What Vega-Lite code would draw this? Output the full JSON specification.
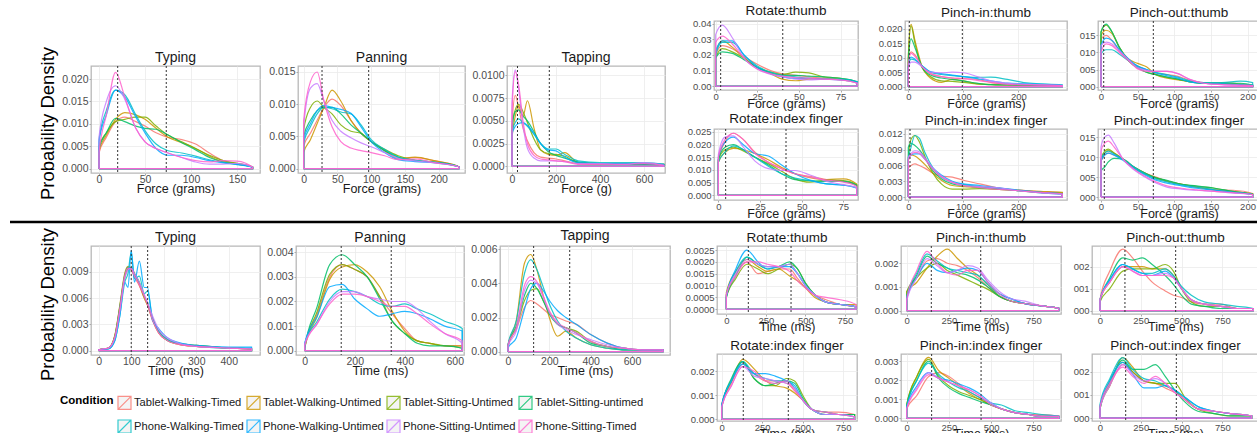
{
"$schema": "https://vega.github.io/schema/vega-lite/v6.json",
"padding": {"left": 8, "top": 3, "right": 0, "bottom": 0},
"background": "white",
"config": {
 "font": "Liberation Sans",
 "view": {"stroke": "#b8b8b8", "strokeWidth": 1.3},
 "range": {"category": ["#F8766D", "#CD9600", "#7CAE00", "#00BE67", "#00BFC4", "#00A9FF", "#C77CFF", "#FF61CC"]},
 "line": {"strokeWidth": 1.2, "opacity": 0.85, "interpolate": "monotone"},
 "rule": {"color": "#333333", "strokeDash": [2, 2], "strokeWidth": 1},
 "axis": {"labelFont": "Liberation Sans", "labelFontSize": 10.5, "labelColor": "#4d4d4d", "tickColor": "#aaaaaa", "tickSize": 2, "domain": false, "gridColor": "#ebebeb", "gridWidth": 0.8, "titleFont": "Liberation Sans", "titleFontSize": 12.5, "titleFontWeight": "normal", "titleColor": "#1a1a1a", "labelOverlap": false, "labelFlush": false, "labelBound": false},
 "axisX": {"titlePadding": -2, "labelPadding": -1},
 "axisY": {"titlePadding": 4, "labelPadding": 1},
 "title": {"font": "Liberation Sans", "fontSize": 14, "fontWeight": "normal", "color": "#1a1a1a", "baseline": "alphabetic", "offset": 1, "frame": "group"}
},
"datasets": {
 "refs": [
  {"p":"T1","x":20.3},{"p":"T1","x":73.1},
  {"p":"T2","x":27.2},{"p":"T2","x":96.3},
  {"p":"T3","x":25},{"p":"T3","x":169.6},
  {"p":"R1","x":3},{"p":"R1","x":40.3},
  {"p":"R2","x":1.8},{"p":"R2","x":98.2},
  {"p":"R3","x":3.7},{"p":"R3","x":71.4},
  {"p":"R4","x":4.4},{"p":"R4","x":40.6},
  {"p":"R5","x":3.1},{"p":"R5","x":98.2},
  {"p":"R6","x":4.5},{"p":"R6","x":71.4},
  {"p":"B1","x":100},{"p":"B1","x":150.5},
  {"p":"B2","x":146},{"p":"B2","x":346},
  {"p":"B3","x":124},{"p":"B3","x":298.5},
  {"p":"S1","x":139},{"p":"S1","x":409},
  {"p":"S2","x":145.5},{"p":"S2","x":438},
  {"p":"S3","x":153},{"p":"S3","x":464},
  {"p":"S4","x":133},{"p":"S4","x":411},
  {"p":"S5","x":147.5},{"p":"S5","x":440},
  {"p":"S6","x":157.6},{"p":"S6","x":468}
 ],
 "curves": [
  {"p":"T1","x":0,"a":0,"b":0,"c":0,"d":0,"e":0,"f":0,"g":0,"h":0},
  {"p":"T1","x":0,"a":0.0035,"b":0.004,"c":0.005,"d":0.0045,"e":0.0065,"f":0.006,"g":0.007,"h":0.0035},
  {"p":"T1","x":8,"a":0.007,"b":0.0075,"c":0.008,"d":0.008,"e":0.013,"f":0.012,"g":0.015,"h":0.012},
  {"p":"T1","x":18,"a":0.0105,"b":0.011,"c":0.0105,"d":0.0112,"e":0.0175,"f":0.0175,"g":0.0185,"h":0.0215},
  {"p":"T1","x":28,"a":0.0115,"b":0.0125,"c":0.011,"d":0.0105,"e":0.0165,"f":0.016,"g":0.0155,"h":0.016},
  {"p":"T1","x":40,"a":0.0105,"b":0.012,"c":0.0115,"d":0.0095,"e":0.012,"f":0.0115,"g":0.009,"h":0.009},
  {"p":"T1","x":50,"a":0.0095,"b":0.011,"c":0.0115,"d":0.009,"e":0.0085,"f":0.008,"g":0.006,"h":0.006},
  {"p":"T1","x":62,"a":0.008,"b":0.009,"c":0.0095,"d":0.0088,"e":0.0055,"f":0.0045,"g":0.0045,"h":0.0045},
  {"p":"T1","x":75,"a":0.007,"b":0.007,"c":0.0075,"d":0.0075,"e":0.004,"f":0.003,"g":0.0035,"h":0.0035},
  {"p":"T1","x":90,"a":0.0065,"b":0.0058,"c":0.006,"d":0.0058,"e":0.0035,"f":0.003,"g":0.0025,"h":0.0025},
  {"p":"T1","x":105,"a":0.0055,"b":0.0045,"c":0.0045,"d":0.0042,"e":0.0028,"f":0.0025,"g":0.0015,"h":0.0018},
  {"p":"T1","x":120,"a":0.0035,"b":0.0028,"c":0.003,"d":0.0025,"e":0.002,"f":0.0018,"g":0.001,"h":0.0015},
  {"p":"T1","x":135,"a":0.0018,"b":0.0015,"c":0.0018,"d":0.0015,"e":0.0014,"f":0.0013,"g":0.001,"h":0.0018},
  {"p":"T1","x":150,"a":0.001,"b":0.0012,"c":0.0012,"d":0.001,"e":0.001,"f":0.0009,"g":0.0012,"h":0.0017},
  {"p":"T1","x":167,"a":0.0004,"b":0.0004,"c":0.0003,"d":0.0004,"e":0.0003,"f":0.0003,"g":0.0004,"h":0.0003},
  {"p":"T1","x":167,"a":0,"b":0,"c":0,"d":0,"e":0,"f":0,"g":0,"h":0},
  {"p":"T1","x":0,"a":0,"b":0,"c":0,"d":0,"e":0,"f":0,"g":0,"h":0},

  {"p":"T2","x":0,"a":0,"b":0,"c":0,"d":0,"e":0,"f":0,"g":0,"h":0},
  {"p":"T2","x":0,"a":0.0035,"b":0.0025,"c":0.006,"d":0.005,"e":0.004,"f":0.0045,"g":0.0065,"h":0.0075},
  {"p":"T2","x":10,"a":0.0055,"b":0.0045,"c":0.0095,"d":0.0075,"e":0.0065,"f":0.007,"g":0.0125,"h":0.0135},
  {"p":"T2","x":20,"a":0.0075,"b":0.007,"c":0.0105,"d":0.009,"e":0.0085,"f":0.009,"g":0.0132,"h":0.015},
  {"p":"T2","x":30,"a":0.0095,"b":0.0095,"c":0.0095,"d":0.0095,"e":0.0095,"f":0.0098,"g":0.0105,"h":0.0105},
  {"p":"T2","x":42,"a":0.0108,"b":0.0122,"c":0.0085,"d":0.0095,"e":0.0093,"f":0.0095,"g":0.0075,"h":0.0065},
  {"p":"T2","x":55,"a":0.0098,"b":0.0105,"c":0.0068,"d":0.0085,"e":0.0088,"f":0.0092,"g":0.0058,"h":0.0042},
  {"p":"T2","x":70,"a":0.0075,"b":0.0075,"c":0.0058,"d":0.0068,"e":0.0085,"f":0.0086,"g":0.0048,"h":0.0032},
  {"p":"T2","x":85,"a":0.0055,"b":0.0055,"c":0.0055,"d":0.0055,"e":0.0068,"f":0.0065,"g":0.004,"h":0.0028},
  {"p":"T2","x":100,"a":0.0042,"b":0.0042,"c":0.0042,"d":0.0042,"e":0.0045,"f":0.0042,"g":0.0034,"h":0.0025},
  {"p":"T2","x":120,"a":0.0028,"b":0.0028,"c":0.003,"d":0.0028,"e":0.003,"f":0.0025,"g":0.0025,"h":0.002},
  {"p":"T2","x":140,"a":0.0016,"b":0.0016,"c":0.002,"d":0.0018,"e":0.0018,"f":0.0014,"g":0.0016,"h":0.0014},
  {"p":"T2","x":165,"a":0.0017,"b":0.0018,"c":0.0013,"d":0.0013,"e":0.0013,"f":0.0011,"g":0.0012,"h":0.0015},
  {"p":"T2","x":195,"a":0.0012,"b":0.0012,"c":0.001,"d":0.001,"e":0.001,"f":0.0009,"g":0.0009,"h":0.0009},
  {"p":"T2","x":230,"a":0.0003,"b":0.0003,"c":0.0003,"d":0.0003,"e":0.0003,"f":0.0003,"g":0.0003,"h":0.0003},
  {"p":"T2","x":230,"a":0,"b":0,"c":0,"d":0,"e":0,"f":0,"g":0,"h":0},
  {"p":"T2","x":0,"a":0,"b":0,"c":0,"d":0,"e":0,"f":0,"g":0,"h":0},

  {"p":"T3","x":0,"a":0,"b":0,"c":0,"d":0,"e":0,"f":0,"g":0,"h":0},
  {"p":"T3","x":0,"a":0.0045,"b":0.003,"c":0.0045,"d":0.004,"e":0.0038,"f":0.0035,"g":0.007,"h":0.006},
  {"p":"T3","x":15,"a":0.0078,"b":0.0055,"c":0.0062,"d":0.006,"e":0.0048,"f":0.0044,"g":0.0106,"h":0.0104},
  {"p":"T3","x":30,"a":0.0065,"b":0.0066,"c":0.0068,"d":0.0062,"e":0.0052,"f":0.0047,"g":0.0085,"h":0.009},
  {"p":"T3","x":50,"a":0.0042,"b":0.0055,"c":0.006,"d":0.0055,"e":0.0048,"f":0.0048,"g":0.0045,"h":0.005},
  {"p":"T3","x":70,"a":0.0028,"b":0.0072,"c":0.0048,"d":0.005,"e":0.0044,"f":0.0045,"g":0.002,"h":0.0025},
  {"p":"T3","x":100,"a":0.0015,"b":0.0042,"c":0.003,"d":0.0038,"e":0.0035,"f":0.0036,"g":0.0009,"h":0.0012},
  {"p":"T3","x":130,"a":0.001,"b":0.0018,"c":0.0018,"d":0.0025,"e":0.0025,"f":0.0025,"g":0.0006,"h":0.0008},
  {"p":"T3","x":165,"a":0.0009,"b":0.0013,"c":0.0014,"d":0.0016,"e":0.0019,"f":0.0018,"g":0.0006,"h":0.0007},
  {"p":"T3","x":200,"a":0.0008,"b":0.0012,"c":0.0013,"d":0.0012,"e":0.0019,"f":0.0017,"g":0.0006,"h":0.0006},
  {"p":"T3","x":240,"a":0.0006,"b":0.0015,"c":0.0011,"d":0.0009,"e":0.0013,"f":0.001,"g":0.0005,"h":0.0005},
  {"p":"T3","x":300,"a":0.0003,"b":0.0004,"c":0.0004,"d":0.0005,"e":0.0006,"f":0.0004,"g":0.0003,"h":0.0002},
  {"p":"T3","x":400,"a":0.0002,"b":0.0002,"c":0.0003,"d":0.0003,"e":0.0004,"f":0.0003,"g":0.0003,"h":0.0002},
  {"p":"T3","x":500,"a":0.0002,"b":0.0002,"c":0.0002,"d":0.0002,"e":0.0004,"f":0.0003,"g":0.0002,"h":0.0002},
  {"p":"T3","x":600,"a":0.0002,"b":0.0002,"c":0.0002,"d":0.0002,"e":0.0004,"f":0.0003,"g":0.0004,"h":0.0003},
  {"p":"T3","x":690,"a":0.0001,"b":0.0002,"c":0.0002,"d":0.0002,"e":0.0002,"f":0.0002,"g":0.0001,"h":0.0001},
  {"p":"T3","x":690,"a":0,"b":0,"c":0,"d":0,"e":0,"f":0,"g":0,"h":0},
  {"p":"T3","x":0,"a":0,"b":0,"c":0,"d":0,"e":0,"f":0,"g":0,"h":0},

  {"p":"R1","x":0,"a":0,"b":0,"c":0,"d":0,"e":0,"f":0,"g":0,"h":0},
  {"p":"R1","x":0,"a":0.02,"b":0.022,"c":0.018,"d":0.018,"e":0.02,"f":0.022,"g":0.033,"h":0.028},
  {"p":"R1","x":4,"a":0.026,"b":0.029,"c":0.024,"d":0.022,"e":0.028,"f":0.029,"g":0.039,"h":0.032},
  {"p":"R1","x":10,"a":0.024,"b":0.025,"c":0.022,"d":0.021,"e":0.028,"f":0.029,"g":0.031,"h":0.027},
  {"p":"R1","x":17,"a":0.019,"b":0.018,"c":0.018,"d":0.017,"e":0.02,"f":0.02,"g":0.018,"h":0.018},
  {"p":"R1","x":25,"a":0.014,"b":0.012,"c":0.012,"d":0.012,"e":0.013,"f":0.012,"g":0.011,"h":0.011},
  {"p":"R1","x":33,"a":0.01,"b":0.008,"c":0.009,"d":0.0085,"e":0.009,"f":0.008,"g":0.0075,"h":0.008},
  {"p":"R1","x":40,"a":0.008,"b":0.0045,"c":0.0075,"d":0.007,"e":0.007,"f":0.006,"g":0.006,"h":0.0065},
  {"p":"R1","x":48,"a":0.007,"b":0.0035,"c":0.009,"d":0.007,"e":0.006,"f":0.005,"g":0.0045,"h":0.0055},
  {"p":"R1","x":56,"a":0.006,"b":0.0045,"c":0.0085,"d":0.0065,"e":0.005,"f":0.005,"g":0.004,"h":0.005},
  {"p":"R1","x":65,"a":0.005,"b":0.005,"c":0.006,"d":0.006,"e":0.0045,"f":0.0045,"g":0.0045,"h":0.0045},
  {"p":"R1","x":75,"a":0.004,"b":0.0045,"c":0.005,"d":0.005,"e":0.0045,"f":0.004,"g":0.004,"h":0.004},
  {"p":"R1","x":85,"a":0.002,"b":0.0025,"c":0.0025,"d":0.0028,"e":0.003,"f":0.0025,"g":0.002,"h":0.002},
  {"p":"R1","x":85,"a":0,"b":0,"c":0,"d":0,"e":0,"f":0,"g":0,"h":0},
  {"p":"R1","x":0,"a":0,"b":0,"c":0,"d":0,"e":0,"f":0,"g":0,"h":0},

  {"p":"R2","x":0,"a":0,"b":0,"c":0,"d":0,"e":0,"f":0,"g":0,"h":0},
  {"p":"R2","x":0,"a":0.008,"b":0.01,"c":0.01,"d":0.009,"e":0.007,"f":0.007,"g":0.006,"h":0.008},
  {"p":"R2","x":5,"a":0.012,"b":0.0215,"c":0.021,"d":0.0165,"e":0.0095,"f":0.0102,"g":0.0085,"h":0.0115},
  {"p":"R2","x":12,"a":0.011,"b":0.016,"c":0.015,"d":0.0135,"e":0.0092,"f":0.0095,"g":0.0085,"h":0.0105},
  {"p":"R2","x":25,"a":0.007,"b":0.007,"c":0.0065,"d":0.0068,"e":0.0072,"f":0.0072,"g":0.0068,"h":0.007},
  {"p":"R2","x":40,"a":0.0045,"b":0.003,"c":0.0035,"d":0.004,"e":0.005,"f":0.0052,"g":0.005,"h":0.0045},
  {"p":"R2","x":60,"a":0.0035,"b":0.0015,"c":0.002,"d":0.003,"e":0.0042,"f":0.0045,"g":0.0048,"h":0.0035},
  {"p":"R2","x":80,"a":0.003,"b":0.0025,"c":0.0018,"d":0.0025,"e":0.0038,"f":0.004,"g":0.005,"h":0.003},
  {"p":"R2","x":100,"a":0.0028,"b":0.002,"c":0.0015,"d":0.002,"e":0.0035,"f":0.0035,"g":0.0048,"h":0.0028},
  {"p":"R2","x":125,"a":0.0025,"b":0.001,"c":0.001,"d":0.0012,"e":0.0032,"f":0.0028,"g":0.0035,"h":0.0022},
  {"p":"R2","x":150,"a":0.0015,"b":0.0008,"c":0.0007,"d":0.0007,"e":0.0033,"f":0.002,"g":0.002,"h":0.0015},
  {"p":"R2","x":180,"a":0.0008,"b":0.0006,"c":0.0006,"d":0.0006,"e":0.0025,"f":0.0012,"g":0.0012,"h":0.0008},
  {"p":"R2","x":220,"a":0.0006,"b":0.0005,"c":0.0005,"d":0.0005,"e":0.0012,"f":0.001,"g":0.0008,"h":0.0006},
  {"p":"R2","x":280,"a":0.0004,"b":0.0003,"c":0.0003,"d":0.0003,"e":0.0006,"f":0.0005,"g":0.0004,"h":0.0004},
  {"p":"R2","x":280,"a":0,"b":0,"c":0,"d":0,"e":0,"f":0,"g":0,"h":0},
  {"p":"R2","x":0,"a":0,"b":0,"c":0,"d":0,"e":0,"f":0,"g":0,"h":0},

  {"p":"R3","x":0,"a":0,"b":0,"c":0,"d":0,"e":0,"f":0,"g":0,"h":0},
  {"p":"R3","x":0,"a":0.014,"b":0.015,"c":0.016,"d":0.016,"e":0.0095,"f":0.012,"g":0.012,"h":0.01},
  {"p":"R3","x":7,"a":0.015,"b":0.0165,"c":0.018,"d":0.0183,"e":0.0108,"f":0.0142,"g":0.013,"h":0.0125},
  {"p":"R3","x":15,"a":0.0135,"b":0.0155,"c":0.016,"d":0.016,"e":0.0108,"f":0.0135,"g":0.0125,"h":0.012},
  {"p":"R3","x":25,"a":0.0105,"b":0.0115,"c":0.0115,"d":0.0115,"e":0.0095,"f":0.0108,"g":0.0105,"h":0.01},
  {"p":"R3","x":38,"a":0.0075,"b":0.008,"c":0.0075,"d":0.0075,"e":0.0075,"f":0.008,"g":0.0078,"h":0.0075},
  {"p":"R3","x":50,"a":0.006,"b":0.0068,"c":0.0055,"d":0.0055,"e":0.006,"f":0.006,"g":0.0055,"h":0.0052},
  {"p":"R3","x":62,"a":0.0048,"b":0.0058,"c":0.0042,"d":0.0042,"e":0.005,"f":0.005,"g":0.0048,"h":0.0045},
  {"p":"R3","x":75,"a":0.004,"b":0.0035,"c":0.0035,"d":0.0035,"e":0.0042,"f":0.004,"g":0.0045,"h":0.0045},
  {"p":"R3","x":90,"a":0.0035,"b":0.0025,"c":0.0028,"d":0.0028,"e":0.0035,"f":0.0032,"g":0.0045,"h":0.0045},
  {"p":"R3","x":105,"a":0.003,"b":0.002,"c":0.0022,"d":0.0022,"e":0.0028,"f":0.0025,"g":0.0038,"h":0.0038},
  {"p":"R3","x":120,"a":0.002,"b":0.0015,"c":0.0015,"d":0.0015,"e":0.0018,"f":0.0015,"g":0.0022,"h":0.0022},
  {"p":"R3","x":140,"a":0.0012,"b":0.001,"c":0.001,"d":0.001,"e":0.0012,"f":0.001,"g":0.001,"h":0.001},
  {"p":"R3","x":165,"a":0.001,"b":0.0008,"c":0.0012,"d":0.001,"e":0.0012,"f":0.0008,"g":0.0006,"h":0.0006},
  {"p":"R3","x":190,"a":0.0006,"b":0.0006,"c":0.0008,"d":0.001,"e":0.0016,"f":0.0006,"g":0.0004,"h":0.0004},
  {"p":"R3","x":207,"a":0.0003,"b":0.0003,"c":0.0004,"d":0.0005,"e":0.0012,"f":0.0004,"g":0.0003,"h":0.0003},
  {"p":"R3","x":207,"a":0,"b":0,"c":0,"d":0,"e":0,"f":0,"g":0,"h":0},
  {"p":"R3","x":0,"a":0,"b":0,"c":0,"d":0,"e":0,"f":0,"g":0,"h":0},

  {"p":"R4","x":0,"a":0,"b":0,"c":0,"d":0,"e":0,"f":0,"g":0,"h":0},
  {"p":"R4","x":0,"a":0.014,"b":0.013,"c":0.014,"d":0.014,"e":0.013,"f":0.015,"g":0.016,"h":0.015},
  {"p":"R4","x":4,"a":0.021,"b":0.017,"c":0.018,"d":0.019,"e":0.017,"f":0.021,"g":0.023,"h":0.022},
  {"p":"R4","x":9,"a":0.0245,"b":0.0185,"c":0.019,"d":0.02,"e":0.0195,"f":0.023,"g":0.0235,"h":0.0245},
  {"p":"R4","x":15,"a":0.022,"b":0.018,"c":0.0175,"d":0.018,"e":0.018,"f":0.02,"g":0.019,"h":0.022},
  {"p":"R4","x":22,"a":0.017,"b":0.0165,"c":0.015,"d":0.015,"e":0.015,"f":0.0165,"g":0.0135,"h":0.0165},
  {"p":"R4","x":30,"a":0.013,"b":0.014,"c":0.0125,"d":0.012,"e":0.0115,"f":0.0155,"g":0.0105,"h":0.013},
  {"p":"R4","x":38,"a":0.0105,"b":0.011,"c":0.0095,"d":0.0085,"e":0.0085,"f":0.012,"g":0.0098,"h":0.0105},
  {"p":"R4","x":46,"a":0.0085,"b":0.0085,"c":0.0065,"d":0.0062,"e":0.0068,"f":0.0085,"g":0.0098,"h":0.0085},
  {"p":"R4","x":55,"a":0.0075,"b":0.007,"c":0.0052,"d":0.0058,"e":0.0058,"f":0.006,"g":0.008,"h":0.0072},
  {"p":"R4","x":65,"a":0.0062,"b":0.0062,"c":0.006,"d":0.0055,"e":0.0045,"f":0.0045,"g":0.0055,"h":0.006},
  {"p":"R4","x":75,"a":0.0055,"b":0.0065,"c":0.0058,"d":0.0055,"e":0.004,"f":0.004,"g":0.0042,"h":0.0052},
  {"p":"R4","x":83,"a":0.0038,"b":0.0045,"c":0.0042,"d":0.004,"e":0.003,"f":0.0028,"g":0.003,"h":0.0035},
  {"p":"R4","x":83,"a":0,"b":0,"c":0,"d":0,"e":0,"f":0,"g":0,"h":0},
  {"p":"R4","x":0,"a":0,"b":0,"c":0,"d":0,"e":0,"f":0,"g":0,"h":0},

  {"p":"R5","x":0,"a":0,"b":0,"c":0,"d":0,"e":0,"f":0,"g":0,"h":0},
  {"p":"R5","x":0,"a":0.0055,"b":0.007,"c":0.0075,"d":0.0095,"e":0.007,"f":0.0075,"g":0.0075,"h":0.007},
  {"p":"R5","x":5,"a":0.006,"b":0.008,"c":0.011,"d":0.0102,"e":0.0095,"f":0.008,"g":0.0083,"h":0.008},
  {"p":"R5","x":12,"a":0.0063,"b":0.0078,"c":0.0117,"d":0.0098,"e":0.0117,"f":0.0082,"g":0.0088,"h":0.0085},
  {"p":"R5","x":20,"a":0.006,"b":0.0072,"c":0.0105,"d":0.009,"e":0.0112,"f":0.0082,"g":0.0086,"h":0.0083},
  {"p":"R5","x":30,"a":0.0055,"b":0.0062,"c":0.0078,"d":0.0075,"e":0.0085,"f":0.0072,"g":0.0075,"h":0.0072},
  {"p":"R5","x":45,"a":0.0045,"b":0.0045,"c":0.0045,"d":0.005,"e":0.0055,"f":0.0055,"g":0.0055,"h":0.0052},
  {"p":"R5","x":60,"a":0.004,"b":0.0032,"c":0.0025,"d":0.0035,"e":0.0038,"f":0.0042,"g":0.004,"h":0.0038},
  {"p":"R5","x":80,"a":0.0038,"b":0.0022,"c":0.0015,"d":0.0025,"e":0.0028,"f":0.003,"g":0.0028,"h":0.0028},
  {"p":"R5","x":100,"a":0.0032,"b":0.002,"c":0.0015,"d":0.0022,"e":0.0024,"f":0.0025,"g":0.0022,"h":0.0022},
  {"p":"R5","x":130,"a":0.0025,"b":0.0018,"c":0.0016,"d":0.0018,"e":0.002,"f":0.0022,"g":0.002,"h":0.0018},
  {"p":"R5","x":160,"a":0.0018,"b":0.0015,"c":0.0015,"d":0.0016,"e":0.0017,"f":0.0018,"g":0.0018,"h":0.0015},
  {"p":"R5","x":200,"a":0.0013,"b":0.0013,"c":0.0012,"d":0.0012,"e":0.0012,"f":0.0013,"g":0.0012,"h":0.0012},
  {"p":"R5","x":240,"a":0.001,"b":0.0011,"c":0.0009,"d":0.0009,"e":0.0008,"f":0.0009,"g":0.0008,"h":0.0009},
  {"p":"R5","x":280,"a":0.0008,"b":0.0009,"c":0.0007,"d":0.0006,"e":0.0005,"f":0.0006,"g":0.0005,"h":0.0006},
  {"p":"R5","x":280,"a":0,"b":0,"c":0,"d":0,"e":0,"f":0,"g":0,"h":0},
  {"p":"R5","x":0,"a":0,"b":0,"c":0,"d":0,"e":0,"f":0,"g":0,"h":0},

  {"p":"R6","x":0,"a":0,"b":0,"c":0,"d":0,"e":0,"f":0,"g":0,"h":0},
  {"p":"R6","x":0,"a":0.009,"b":0.009,"c":0.0095,"d":0.0065,"e":0.0095,"f":0.009,"g":0.0125,"h":0.0115},
  {"p":"R6","x":5,"a":0.0105,"b":0.011,"c":0.0115,"d":0.0075,"e":0.011,"f":0.0105,"g":0.015,"h":0.0135},
  {"p":"R6","x":10,"a":0.011,"b":0.0117,"c":0.012,"d":0.0088,"e":0.0115,"f":0.011,"g":0.0155,"h":0.014},
  {"p":"R6","x":18,"a":0.0105,"b":0.011,"c":0.011,"d":0.0097,"e":0.0108,"f":0.0105,"g":0.0135,"h":0.0125},
  {"p":"R6","x":30,"a":0.0095,"b":0.0095,"c":0.0095,"d":0.0095,"e":0.0095,"f":0.0092,"g":0.0095,"h":0.0095},
  {"p":"R6","x":45,"a":0.0075,"b":0.0075,"c":0.0072,"d":0.0075,"e":0.0075,"f":0.0072,"g":0.0068,"h":0.007},
  {"p":"R6","x":60,"a":0.006,"b":0.006,"c":0.0058,"d":0.006,"e":0.0058,"f":0.0055,"g":0.005,"h":0.0052},
  {"p":"R6","x":75,"a":0.005,"b":0.0048,"c":0.0048,"d":0.0048,"e":0.0045,"f":0.0042,"g":0.0035,"h":0.0038},
  {"p":"R6","x":90,"a":0.004,"b":0.004,"c":0.004,"d":0.0042,"e":0.0038,"f":0.0035,"g":0.0025,"h":0.0028},
  {"p":"R6","x":110,"a":0.0032,"b":0.0032,"c":0.0032,"d":0.0032,"e":0.003,"f":0.0028,"g":0.002,"h":0.0022},
  {"p":"R6","x":130,"a":0.0025,"b":0.0025,"c":0.0027,"d":0.0028,"e":0.0025,"f":0.0022,"g":0.0017,"h":0.0018},
  {"p":"R6","x":155,"a":0.0018,"b":0.0018,"c":0.0022,"d":0.0022,"e":0.0018,"f":0.0017,"g":0.0014,"h":0.0014},
  {"p":"R6","x":180,"a":0.0017,"b":0.0013,"c":0.0014,"d":0.0014,"e":0.0012,"f":0.0012,"g":0.001,"h":0.0011},
  {"p":"R6","x":207,"a":0.0009,"b":0.0008,"c":0.0007,"d":0.0007,"e":0.0006,"f":0.0006,"g":0.0006,"h":0.0006},
  {"p":"R6","x":207,"a":0,"b":0,"c":0,"d":0,"e":0,"f":0,"g":0,"h":0},
  {"p":"R6","x":0,"a":0,"b":0,"c":0,"d":0,"e":0,"f":0,"g":0,"h":0},

  {"p":"B1","x":0,"a":0,"b":0,"c":0,"d":0,"e":0,"f":0,"g":0,"h":0},
  {"p":"B1","x":0,"a":0.0001,"b":0.0001,"c":0.0001,"d":0.0001,"e":0.0001,"f":0.0001,"g":0.0001,"h":0.0001},
  {"p":"B1","x":30,"a":0.0003,"b":0.0003,"c":0.0003,"d":0.0003,"e":0.0002,"f":0.0002,"g":0.0003,"h":0.0003},
  {"p":"B1","x":50,"a":0.0018,"b":0.0018,"c":0.0016,"d":0.0017,"e":0.0012,"f":0.0012,"g":0.0015,"h":0.0016},
  {"p":"B1","x":65,"a":0.005,"b":0.0052,"c":0.0048,"d":0.005,"e":0.004,"f":0.004,"g":0.0045,"h":0.0048},
  {"p":"B1","x":80,"a":0.0085,"b":0.0088,"c":0.0083,"d":0.0086,"e":0.0078,"f":0.0078,"g":0.0082,"h":0.0085},
  {"p":"B1","x":90,"a":0.0094,"b":0.0096,"c":0.0093,"d":0.0095,"e":0.0088,"f":0.0072,"g":0.0092,"h":0.0094},
  {"p":"B1","x":100,"a":0.0092,"b":0.0093,"c":0.0095,"d":0.0094,"e":0.0112,"f":0.0114,"g":0.0094,"h":0.0093},
  {"p":"B1","x":110,"a":0.0084,"b":0.0086,"c":0.0088,"d":0.0088,"e":0.0082,"f":0.0078,"g":0.0088,"h":0.0085},
  {"p":"B1","x":125,"a":0.0074,"b":0.0075,"c":0.0078,"d":0.0077,"e":0.0085,"f":0.0102,"g":0.0078,"h":0.0075},
  {"p":"B1","x":140,"a":0.006,"b":0.006,"c":0.0062,"d":0.0062,"e":0.0065,"f":0.0072,"g":0.0064,"h":0.0062},
  {"p":"B1","x":150,"a":0.0052,"b":0.0052,"c":0.0054,"d":0.0054,"e":0.0068,"f":0.0072,"g":0.0055,"h":0.0053},
  {"p":"B1","x":165,"a":0.0035,"b":0.0036,"c":0.0038,"d":0.0037,"e":0.0038,"f":0.0035,"g":0.004,"h":0.0036},
  {"p":"B1","x":185,"a":0.002,"b":0.002,"c":0.0022,"d":0.0021,"e":0.0022,"f":0.0025,"g":0.0024,"h":0.002},
  {"p":"B1","x":210,"a":0.0012,"b":0.0012,"c":0.0013,"d":0.0012,"e":0.0013,"f":0.0015,"g":0.0015,"h":0.0012},
  {"p":"B1","x":250,"a":0.0007,"b":0.0007,"c":0.0008,"d":0.0008,"e":0.0008,"f":0.0009,"g":0.0008,"h":0.0007},
  {"p":"B1","x":300,"a":0.0005,"b":0.0005,"c":0.0006,"d":0.0006,"e":0.0005,"f":0.0006,"g":0.0005,"h":0.0005},
  {"p":"B1","x":400,"a":0.0003,"b":0.0003,"c":0.0003,"d":0.0003,"e":0.0003,"f":0.0004,"g":0.0003,"h":0.0003},
  {"p":"B1","x":470,"a":0.0002,"b":0.0002,"c":0.0002,"d":0.0002,"e":0.0003,"f":0.0004,"g":0.0002,"h":0.0002},
  {"p":"B1","x":470,"a":0,"b":0,"c":0,"d":0,"e":0,"f":0,"g":0,"h":0},
  {"p":"B1","x":0,"a":0,"b":0,"c":0,"d":0,"e":0,"f":0,"g":0,"h":0},

  {"p":"B2","x":0,"a":0,"b":0,"c":0,"d":0,"e":0,"f":0,"g":0,"h":0},
  {"p":"B2","x":0,"a":0.0002,"b":0.0001,"c":0.0001,"d":0.0001,"e":0.0003,"f":0.0003,"g":0.0003,"h":0.0002},
  {"p":"B2","x":50,"a":0.0015,"b":0.0014,"c":0.0016,"d":0.0018,"e":0.0012,"f":0.0014,"g":0.0011,"h":0.0011},
  {"p":"B2","x":100,"a":0.003,"b":0.0029,"c":0.0031,"d":0.0035,"e":0.0021,"f":0.0026,"g":0.002,"h":0.0019},
  {"p":"B2","x":150,"a":0.0035,"b":0.0034,"c":0.0035,"d":0.0039,"e":0.0025,"f":0.0027,"g":0.0024,"h":0.0023},
  {"p":"B2","x":200,"a":0.0033,"b":0.0035,"c":0.0033,"d":0.0035,"e":0.0024,"f":0.0021,"g":0.0024,"h":0.0023},
  {"p":"B2","x":250,"a":0.003,"b":0.0032,"c":0.003,"d":0.003,"e":0.0022,"f":0.0017,"g":0.0022,"h":0.0022},
  {"p":"B2","x":300,"a":0.0022,"b":0.0026,"c":0.0022,"d":0.0021,"e":0.0019,"f":0.0014,"g":0.0021,"h":0.002},
  {"p":"B2","x":350,"a":0.0015,"b":0.0016,"c":0.0012,"d":0.0012,"e":0.0018,"f":0.0015,"g":0.002,"h":0.0018},
  {"p":"B2","x":400,"a":0.0009,"b":0.0008,"c":0.0007,"d":0.0007,"e":0.0019,"f":0.0016,"g":0.002,"h":0.0018},
  {"p":"B2","x":450,"a":0.0004,"b":0.0004,"c":0.0004,"d":0.0003,"e":0.0017,"f":0.0015,"g":0.0017,"h":0.0015},
  {"p":"B2","x":500,"a":0.0003,"b":0.0003,"c":0.0003,"d":0.0002,"e":0.0015,"f":0.0013,"g":0.0012,"h":0.0011},
  {"p":"B2","x":560,"a":0.0002,"b":0.0002,"c":0.0002,"d":0.0002,"e":0.0012,"f":0.001,"g":0.0007,"h":0.0007},
  {"p":"B2","x":630,"a":0.0002,"b":0.0002,"c":0.0001,"d":0.0001,"e":0.0009,"f":0.0008,"g":0.0003,"h":0.0004},
  {"p":"B2","x":630,"a":0,"b":0,"c":0,"d":0,"e":0,"f":0,"g":0,"h":0},
  {"p":"B2","x":0,"a":0,"b":0,"c":0,"d":0,"e":0,"f":0,"g":0,"h":0},

  {"p":"B3","x":0,"a":0,"b":0,"c":0,"d":0,"e":0,"f":0,"g":0,"h":0},
  {"p":"B3","x":0,"a":0.0004,"b":0.0003,"c":0.0003,"d":0.0004,"e":0.0004,"f":0.0002,"g":0.0003,"h":0.0004},
  {"p":"B3","x":40,"a":0.0013,"b":0.0018,"c":0.0014,"d":0.0015,"e":0.0018,"f":0.0008,"g":0.0012,"h":0.0014},
  {"p":"B3","x":80,"a":0.0026,"b":0.0052,"c":0.003,"d":0.0033,"e":0.0046,"f":0.0025,"g":0.0036,"h":0.0039},
  {"p":"B3","x":110,"a":0.003,"b":0.0057,"c":0.0036,"d":0.004,"e":0.0054,"f":0.0037,"g":0.0042,"h":0.0044},
  {"p":"B3","x":140,"a":0.0028,"b":0.0048,"c":0.0037,"d":0.0037,"e":0.0048,"f":0.004,"g":0.004,"h":0.0041},
  {"p":"B3","x":170,"a":0.0025,"b":0.0033,"c":0.003,"d":0.003,"e":0.0038,"f":0.0036,"g":0.0032,"h":0.0033},
  {"p":"B3","x":200,"a":0.0022,"b":0.002,"c":0.0023,"d":0.0022,"e":0.0028,"f":0.003,"g":0.0023,"h":0.0024},
  {"p":"B3","x":240,"a":0.002,"b":0.0009,"c":0.0016,"d":0.0016,"e":0.0018,"f":0.0024,"g":0.0016,"h":0.0017},
  {"p":"B3","x":280,"a":0.0018,"b":0.0012,"c":0.0014,"d":0.0014,"e":0.0012,"f":0.002,"g":0.0013,"h":0.0014},
  {"p":"B3","x":330,"a":0.0016,"b":0.0008,"c":0.0012,"d":0.0011,"e":0.0008,"f":0.0016,"g":0.001,"h":0.0011},
  {"p":"B3","x":400,"a":0.001,"b":0.0004,"c":0.0006,"d":0.0005,"e":0.0004,"f":0.001,"g":0.0007,"h":0.0006},
  {"p":"B3","x":480,"a":0.0005,"b":0.0002,"c":0.0003,"d":0.0003,"e":0.0002,"f":0.0005,"g":0.0004,"h":0.0003},
  {"p":"B3","x":560,"a":0.0002,"b":0.0001,"c":0.0002,"d":0.0001,"e":0.0001,"f":0.0002,"g":0.0002,"h":0.0002},
  {"p":"B3","x":650,"a":0.0001,"b":0.0001,"c":0.0001,"d":0.0001,"e":0.0001,"f":0.0001,"g":0.0001,"h":0.0001},
  {"p":"B3","x":750,"a":0.0001,"b":0.0001,"c":0.0001,"d":0.0001,"e":0.0001,"f":0.0001,"g":0.0001,"h":0.0001},
  {"p":"B3","x":750,"a":0,"b":0,"c":0,"d":0,"e":0,"f":0,"g":0,"h":0},
  {"p":"B3","x":0,"a":0,"b":0,"c":0,"d":0,"e":0,"f":0,"g":0,"h":0},

  {"p":"S1","x":0,"a":0,"b":0,"c":0,"d":0,"e":0,"f":0,"g":0,"h":0},
  {"p":"S1","x":0,"a":0.0006,"b":0.0007,"c":0.0005,"d":0.0005,"e":0.0006,"f":0.0005,"g":0.0006,"h":0.0006},
  {"p":"S1","x":60,"a":0.0015,"b":0.0016,"c":0.0013,"d":0.0014,"e":0.0016,"f":0.0017,"g":0.0015,"h":0.0014},
  {"p":"S1","x":130,"a":0.002,"b":0.0021,"c":0.0019,"d":0.0022,"e":0.0022,"f":0.0025,"g":0.0021,"h":0.002},
  {"p":"S1","x":200,"a":0.0015,"b":0.0018,"c":0.0017,"d":0.0019,"e":0.0019,"f":0.002,"g":0.0019,"h":0.002},
  {"p":"S1","x":260,"a":0.0016,"b":0.0016,"c":0.0015,"d":0.0017,"e":0.0018,"f":0.0017,"g":0.0018,"h":0.0019},
  {"p":"S1","x":330,"a":0.0017,"b":0.0017,"c":0.0017,"d":0.0018,"e":0.0018,"f":0.0018,"g":0.0018,"h":0.0018},
  {"p":"S1","x":400,"a":0.0017,"b":0.0014,"c":0.0019,"d":0.002,"e":0.0019,"f":0.0018,"g":0.0019,"h":0.0016},
  {"p":"S1","x":450,"a":0.0013,"b":0.0012,"c":0.0017,"d":0.0017,"e":0.0015,"f":0.0015,"g":0.0015,"h":0.0012},
  {"p":"S1","x":500,"a":0.0009,"b":0.0009,"c":0.0011,"d":0.0011,"e":0.001,"f":0.001,"g":0.001,"h":0.0009},
  {"p":"S1","x":560,"a":0.0006,"b":0.0005,"c":0.0006,"d":0.0006,"e":0.0006,"f":0.0006,"g":0.0006,"h":0.0006},
  {"p":"S1","x":630,"a":0.0004,"b":0.0003,"c":0.0003,"d":0.0003,"e":0.0003,"f":0.0003,"g":0.0003,"h":0.0005},
  {"p":"S1","x":720,"a":0.0002,"b":0.0002,"c":0.0002,"d":0.0002,"e":0.0002,"f":0.0002,"g":0.0002,"h":0.0004},
  {"p":"S1","x":820,"a":0.0001,"b":0.0002,"c":0.0001,"d":0.0001,"e":0.0001,"f":0.0001,"g":0.0001,"h":0.0002},
  {"p":"S1","x":820,"a":0,"b":0,"c":0,"d":0,"e":0,"f":0,"g":0,"h":0},
  {"p":"S1","x":0,"a":0,"b":0,"c":0,"d":0,"e":0,"f":0,"g":0,"h":0},

  {"p":"S2","x":0,"a":0,"b":0,"c":0,"d":0,"e":0,"f":0,"g":0,"h":0},
  {"p":"S2","x":0,"a":0.0006,"b":0.0008,"c":0.0008,"d":0.0006,"e":0.0006,"f":0.0005,"g":0.0004,"h":0.0005},
  {"p":"S2","x":60,"a":0.0014,"b":0.0012,"c":0.0014,"d":0.0015,"e":0.0016,"f":0.0014,"g":0.0014,"h":0.0017},
  {"p":"S2","x":120,"a":0.0021,"b":0.0018,"c":0.0018,"d":0.0023,"e":0.0024,"f":0.002,"g":0.0022,"h":0.0025},
  {"p":"S2","x":180,"a":0.0022,"b":0.0023,"c":0.002,"d":0.002,"e":0.0021,"f":0.0017,"g":0.0019,"h":0.002},
  {"p":"S2","x":240,"a":0.002,"b":0.0026,"c":0.0017,"d":0.0018,"e":0.0018,"f":0.0016,"g":0.0016,"h":0.0016},
  {"p":"S2","x":300,"a":0.0019,"b":0.0022,"c":0.0015,"d":0.0016,"e":0.0017,"f":0.0017,"g":0.0017,"h":0.0015},
  {"p":"S2","x":360,"a":0.0017,"b":0.0018,"c":0.0013,"d":0.0015,"e":0.0016,"f":0.0018,"g":0.0019,"h":0.0017},
  {"p":"S2","x":420,"a":0.0014,"b":0.0015,"c":0.0011,"d":0.0013,"e":0.0015,"f":0.0017,"g":0.0018,"h":0.0017},
  {"p":"S2","x":480,"a":0.001,"b":0.0011,"c":0.0009,"d":0.001,"e":0.0011,"f":0.0012,"g":0.0013,"h":0.0012},
  {"p":"S2","x":550,"a":0.0006,"b":0.0006,"c":0.0006,"d":0.0006,"e":0.0007,"f":0.0007,"g":0.0008,"h":0.0007},
  {"p":"S2","x":620,"a":0.0004,"b":0.0004,"c":0.0004,"d":0.0004,"e":0.0005,"f":0.0005,"g":0.0005,"h":0.0004},
  {"p":"S2","x":700,"a":0.0003,"b":0.0003,"c":0.0003,"d":0.0003,"e":0.0003,"f":0.0003,"g":0.0004,"h":0.0003},
  {"p":"S2","x":800,"a":0.0002,"b":0.0002,"c":0.0002,"d":0.0002,"e":0.0002,"f":0.0002,"g":0.0002,"h":0.0002},
  {"p":"S2","x":900,"a":0.0001,"b":0.0001,"c":0.0001,"d":0.0001,"e":0.0001,"f":0.0001,"g":0.0001,"h":0.0001},
  {"p":"S2","x":900,"a":0,"b":0,"c":0,"d":0,"e":0,"f":0,"g":0,"h":0},
  {"p":"S2","x":0,"a":0,"b":0,"c":0,"d":0,"e":0,"f":0,"g":0,"h":0},

  {"p":"S3","x":0,"a":0,"b":0,"c":0,"d":0,"e":0,"f":0,"g":0,"h":0},
  {"p":"S3","x":0,"a":0.0005,"b":0.0005,"c":0.0004,"d":0.0004,"e":0.0005,"f":0.0005,"g":0.0005,"h":0.0005},
  {"p":"S3","x":60,"a":0.0018,"b":0.0013,"c":0.001,"d":0.0015,"e":0.0014,"f":0.0014,"g":0.0013,"h":0.0013},
  {"p":"S3","x":140,"a":0.0028,"b":0.002,"c":0.0018,"d":0.0024,"e":0.0021,"f":0.0021,"g":0.002,"h":0.002},
  {"p":"S3","x":200,"a":0.0024,"b":0.002,"c":0.0019,"d":0.0023,"e":0.0019,"f":0.0019,"g":0.0018,"h":0.0018},
  {"p":"S3","x":260,"a":0.0018,"b":0.002,"c":0.0019,"d":0.0024,"e":0.0017,"f":0.0017,"g":0.0016,"h":0.0016},
  {"p":"S3","x":320,"a":0.0013,"b":0.0019,"c":0.0019,"d":0.0021,"e":0.0017,"f":0.0016,"g":0.0016,"h":0.0016},
  {"p":"S3","x":400,"a":0.0009,"b":0.0019,"c":0.0021,"d":0.0016,"e":0.0019,"f":0.0018,"g":0.0017,"h":0.0016},
  {"p":"S3","x":450,"a":0.0007,"b":0.0016,"c":0.0018,"d":0.0012,"e":0.0016,"f":0.0015,"g":0.0015,"h":0.0015},
  {"p":"S3","x":500,"a":0.0006,"b":0.001,"c":0.001,"d":0.0007,"e":0.0011,"f":0.001,"g":0.001,"h":0.001},
  {"p":"S3","x":560,"a":0.0004,"b":0.0005,"c":0.0004,"d":0.0003,"e":0.0007,"f":0.0005,"g":0.0005,"h":0.0005},
  {"p":"S3","x":640,"a":0.0003,"b":0.0003,"c":0.0002,"d":0.0002,"e":0.0004,"f":0.0003,"g":0.0003,"h":0.0003},
  {"p":"S3","x":740,"a":0.0003,"b":0.0002,"c":0.0002,"d":0.0001,"e":0.0003,"f":0.0002,"g":0.0002,"h":0.0002},
  {"p":"S3","x":840,"a":0.0001,"b":0.0001,"c":0.0001,"d":0.0001,"e":0.0002,"f":0.0001,"g":0.0001,"h":0.0001},
  {"p":"S3","x":940,"a":0.0001,"b":0.0001,"c":0.0001,"d":0.0001,"e":0.0001,"f":0.0001,"g":0.0001,"h":0.0001},
  {"p":"S3","x":940,"a":0,"b":0,"c":0,"d":0,"e":0,"f":0,"g":0,"h":0},
  {"p":"S3","x":0,"a":0,"b":0,"c":0,"d":0,"e":0,"f":0,"g":0,"h":0},

  {"p":"S4","x":0,"a":0,"b":0,"c":0,"d":0,"e":0,"f":0,"g":0,"h":0},
  {"p":"S4","x":0,"a":0.0005,"b":0.0006,"c":0.0005,"d":0.0005,"e":0.0006,"f":0.0006,"g":0.0005,"h":0.0005},
  {"p":"S4","x":60,"a":0.0015,"b":0.0016,"c":0.0016,"d":0.0017,"e":0.0016,"f":0.0016,"g":0.0014,"h":0.0014},
  {"p":"S4","x":130,"a":0.0023,"b":0.0025,"c":0.0024,"d":0.0024,"e":0.0024,"f":0.0023,"g":0.0022,"h":0.0022},
  {"p":"S4","x":200,"a":0.0019,"b":0.0021,"c":0.0017,"d":0.0017,"e":0.0019,"f":0.0019,"g":0.0018,"h":0.002},
  {"p":"S4","x":270,"a":0.0016,"b":0.0016,"c":0.0014,"d":0.0014,"e":0.0017,"f":0.0019,"g":0.0017,"h":0.0016},
  {"p":"S4","x":330,"a":0.0016,"b":0.0014,"c":0.0014,"d":0.0015,"e":0.0016,"f":0.0018,"g":0.0016,"h":0.0015},
  {"p":"S4","x":400,"a":0.0015,"b":0.0013,"c":0.0017,"d":0.0016,"e":0.0016,"f":0.0016,"g":0.0015,"h":0.0016},
  {"p":"S4","x":450,"a":0.0012,"b":0.0011,"c":0.0016,"d":0.0015,"e":0.0013,"f":0.0014,"g":0.0013,"h":0.0012},
  {"p":"S4","x":500,"a":0.0008,"b":0.0008,"c":0.001,"d":0.0009,"e":0.0008,"f":0.0008,"g":0.0008,"h":0.0008},
  {"p":"S4","x":560,"a":0.0004,"b":0.0004,"c":0.0004,"d":0.0004,"e":0.0004,"f":0.0004,"g":0.0004,"h":0.0004},
  {"p":"S4","x":640,"a":0.0003,"b":0.0003,"c":0.0002,"d":0.0002,"e":0.0003,"f":0.0002,"g":0.0002,"h":0.0003},
  {"p":"S4","x":720,"a":0.0003,"b":0.0002,"c":0.0002,"d":0.0002,"e":0.0002,"f":0.0002,"g":0.0002,"h":0.0002},
  {"p":"S4","x":820,"a":0.0002,"b":0.0002,"c":0.0002,"d":0.0002,"e":0.0001,"f":0.0001,"g":0.0001,"h":0.0001},
  {"p":"S4","x":820,"a":0,"b":0,"c":0,"d":0,"e":0,"f":0,"g":0,"h":0},
  {"p":"S4","x":0,"a":0,"b":0,"c":0,"d":0,"e":0,"f":0,"g":0,"h":0},

  {"p":"S5","x":0,"a":0,"b":0,"c":0,"d":0,"e":0,"f":0,"g":0,"h":0},
  {"p":"S5","x":0,"a":0.0005,"b":0.0007,"c":0.0007,"d":0.0007,"e":0.0006,"f":0.0006,"g":0.0005,"h":0.0005},
  {"p":"S5","x":60,"a":0.0012,"b":0.0022,"c":0.0022,"d":0.002,"e":0.002,"f":0.0017,"g":0.0016,"h":0.0015},
  {"p":"S5","x":130,"a":0.0022,"b":0.0032,"c":0.0031,"d":0.003,"e":0.0029,"f":0.0024,"g":0.0024,"h":0.0023},
  {"p":"S5","x":190,"a":0.0024,"b":0.0025,"c":0.0022,"d":0.0021,"e":0.0023,"f":0.0021,"g":0.0021,"h":0.0021},
  {"p":"S5","x":250,"a":0.0022,"b":0.0021,"c":0.0017,"d":0.0016,"e":0.0019,"f":0.002,"g":0.0019,"h":0.0019},
  {"p":"S5","x":310,"a":0.0018,"b":0.0017,"c":0.0014,"d":0.0013,"e":0.0016,"f":0.0018,"g":0.0017,"h":0.0017},
  {"p":"S5","x":370,"a":0.0014,"b":0.0013,"c":0.0012,"d":0.0011,"e":0.0014,"f":0.0016,"g":0.0015,"h":0.0015},
  {"p":"S5","x":430,"a":0.0011,"b":0.001,"c":0.001,"d":0.0009,"e":0.0011,"f":0.0013,"g":0.0012,"h":0.0012},
  {"p":"S5","x":500,"a":0.0007,"b":0.0007,"c":0.0007,"d":0.0007,"e":0.0008,"f":0.0008,"g":0.0008,"h":0.0007},
  {"p":"S5","x":560,"a":0.0005,"b":0.0005,"c":0.0005,"d":0.0005,"e":0.0007,"f":0.0005,"g":0.0005,"h":0.0005},
  {"p":"S5","x":640,"a":0.0003,"b":0.0003,"c":0.0003,"d":0.0003,"e":0.0004,"f":0.0003,"g":0.0003,"h":0.0003},
  {"p":"S5","x":720,"a":0.0002,"b":0.0002,"c":0.0002,"d":0.0002,"e":0.0003,"f":0.0002,"g":0.0002,"h":0.0002},
  {"p":"S5","x":800,"a":0.0002,"b":0.0001,"c":0.0001,"d":0.0001,"e":0.0002,"f":0.0001,"g":0.0001,"h":0.0001},
  {"p":"S5","x":900,"a":0.0001,"b":0.0001,"c":0.0001,"d":0.0001,"e":0.0001,"f":0.0001,"g":0.0001,"h":0.0001},
  {"p":"S5","x":900,"a":0,"b":0,"c":0,"d":0,"e":0,"f":0,"g":0,"h":0},
  {"p":"S5","x":0,"a":0,"b":0,"c":0,"d":0,"e":0,"f":0,"g":0,"h":0},

  {"p":"S6","x":0,"a":0,"b":0,"c":0,"d":0,"e":0,"f":0,"g":0,"h":0},
  {"p":"S6","x":0,"a":0.0005,"b":0.0004,"c":0.0004,"d":0.0004,"e":0.0006,"f":0.0005,"g":0.0004,"h":0.0005},
  {"p":"S6","x":60,"a":0.0014,"b":0.0014,"c":0.0016,"d":0.0015,"e":0.0017,"f":0.0016,"g":0.0014,"h":0.0015},
  {"p":"S6","x":140,"a":0.0023,"b":0.0026,"c":0.0024,"d":0.0025,"e":0.0026,"f":0.0024,"g":0.0023,"h":0.0022},
  {"p":"S6","x":200,"a":0.002,"b":0.0022,"c":0.002,"d":0.0021,"e":0.0021,"f":0.0019,"g":0.0019,"h":0.0018},
  {"p":"S6","x":270,"a":0.0016,"b":0.0016,"c":0.0016,"d":0.0021,"e":0.0017,"f":0.0013,"g":0.0016,"h":0.0015},
  {"p":"S6","x":340,"a":0.0015,"b":0.0015,"c":0.0015,"d":0.0023,"e":0.0016,"f":0.0013,"g":0.0017,"h":0.0018},
  {"p":"S6","x":400,"a":0.0013,"b":0.0014,"c":0.0015,"d":0.0018,"e":0.0014,"f":0.0014,"g":0.0015,"h":0.0015},
  {"p":"S6","x":460,"a":0.0011,"b":0.0012,"c":0.0015,"d":0.0012,"e":0.0012,"f":0.0012,"g":0.0011,"h":0.0011},
  {"p":"S6","x":520,"a":0.0008,"b":0.0008,"c":0.0009,"d":0.0007,"e":0.0009,"f":0.0009,"g":0.0008,"h":0.0008},
  {"p":"S6","x":600,"a":0.0004,"b":0.0004,"c":0.0004,"d":0.0003,"e":0.0005,"f":0.0005,"g":0.0004,"h":0.0004},
  {"p":"S6","x":700,"a":0.0003,"b":0.0003,"c":0.0002,"d":0.0002,"e":0.0003,"f":0.0003,"g":0.0003,"h":0.0003},
  {"p":"S6","x":800,"a":0.0002,"b":0.0002,"c":0.0001,"d":0.0001,"e":0.0002,"f":0.0002,"g":0.0002,"h":0.0002},
  {"p":"S6","x":930,"a":0.0001,"b":0.0001,"c":0.0001,"d":0.0001,"e":0.0001,"f":0.0001,"g":0.0001,"h":0.0001},
  {"p":"S6","x":930,"a":0,"b":0,"c":0,"d":0,"e":0,"f":0,"g":0,"h":0},
  {"p":"S6","x":0,"a":0,"b":0,"c":0,"d":0,"e":0,"f":0,"g":0,"h":0}
 ]
},
"spacing": -5,
"vconcat": [
 {"spacing": 0, "hconcat": [
  {"bounds": "flush", "align": "each", "columns": 6, "spacing": {"row": 39, "column": 0}, "concat": [
   {"width": 81, "height": 6, "view": {"stroke": null}, "data": {"values": [{}]}, "mark": {"type": "point", "opacity": 0, "size": 0}, "encoding": {}},
   {"width": 169, "height": 1, "view": {"stroke": null}, "data": {"values": [{}]}, "mark": {"type": "point", "opacity": 0, "size": 0}, "encoding": {}},
   {"width": 38, "height": 1, "view": {"stroke": null}, "data": {"values": [{}]}, "mark": {"type": "point", "opacity": 0, "size": 0}, "encoding": {}},
   {"width": 167, "height": 1, "view": {"stroke": null}, "data": {"values": [{}]}, "mark": {"type": "point", "opacity": 0, "size": 0}, "encoding": {}},
   {"width": 42, "height": 1, "view": {"stroke": null}, "data": {"values": [{}]}, "mark": {"type": "point", "opacity": 0, "size": 0}, "encoding": {}},
   {"width": 158, "height": 1, "view": {"stroke": null}, "data": {"values": [{}]}, "mark": {"type": "point", "opacity": 0, "size": 0}, "encoding": {}},
   {"width": 81, "height": 107, "view": {"stroke": null}, "data": {"values": [{"v": 0}]}, "mark": {"type": "point", "opacity": 0, "size": 0},
    "encoding": {"y": {"field": "v", "type": "quantitative", "scale": {"domain": [0, 1]}, "axis": {"title": "Probability Density", "labels": false, "ticks": false, "grid": false, "domain": false, "offset": -47.7, "titlePadding": 0, "titleFontSize": 18.5, "titleColor": "#000000", "titleY": 57}}}},
   {"width": 169, "height": 107, "title": "Typing", "layer": [
    {"data": {"name": "curves"}, "transform": [{"filter": "datum.p=='T1'"}, {"fold": ["a","b","c","d","e","f","g","h"], "as": ["k","v"]}], "mark": "line",
     "encoding": {
      "x": {"field": "x", "type": "quantitative", "scale": {"domain": [-8.7, 175], "nice": false}, "axis": {"values": [0,50,100,150], "title": "Force (grams)"}},
      "y": {"field": "v", "type": "quantitative", "scale": {"domain": [-0.00096, 0.0229], "nice": false}, "axis": {"values": [0,0.005,0.01,0.015,0.02], "format": ".3f", "title": null}},
      "color": {"field": "k", "type": "nominal", "legend": {"orient": "none", "legendX": 50, "legendY": 374, "direction": "horizontal", "columns": 4, "title": "Condition", "titleOrient": "left", "titleAnchor": "start", "titleBaseline": "top", "titleFontWeight": "bold", "titleFontSize": 11.5, "titleColor": "#000000", "titlePadding": 3, "titleFont": "Liberation Sans", "labelFont": "Liberation Sans", "labelFontSize": 11.2, "labelColor": "#1a1a1a", "labelOffset": 2, "columnPadding": 0, "rowPadding": 5, "padding": 0, "symbolType": "M-1,-1H1V1H-1Z M-1,1L1,-1", "symbolSize": 169, "symbolStrokeWidth": 1, "symbolFillColor": "#f2f2f2", "symbolOpacity": 0.8,
       "labelExpr": "datum.label=='a'?'Tablet-Walking-Timed':datum.label=='b'?'Tablet-Walking-Untimed':datum.label=='c'?'Tablet-Sitting-Untimed':datum.label=='d'?'Tablet-Sitting-untimed':datum.label=='e'?'Phone-Walking-Timed':datum.label=='f'?'Phone-Walking-Untimed':datum.label=='g'?'Phone-Sitting-Untimed':'Phone-Sitting-Timed'"}},
      "order": {"value": null}}},
    {"data": {"name": "refs"}, "transform": [{"filter": "datum.p=='T1'"}], "mark": "rule", "encoding": {"x": {"field": "x", "type": "quantitative"}}}
   ]},
   {"width": 38, "height": 1, "view": {"stroke": null}, "data": {"values": [{}]}, "mark": {"type": "point", "opacity": 0, "size": 0}, "encoding": {}},
   {"width": 167, "height": 107, "title": "Panning", "layer": [
    {"data": {"name": "curves"}, "transform": [{"filter": "datum.p=='T2'"}, {"fold": ["a","b","c","d","e","f","g","h"], "as": ["k","v"]}], "mark": "line",
     "encoding": {
      "x": {"field": "x", "type": "quantitative", "scale": {"domain": [-8.4, 239], "nice": false}, "axis": {"values": [0,50,100,150,200], "title": "Force (grams)"}},
      "y": {"field": "v", "type": "quantitative", "scale": {"domain": [-0.00067, 0.01593], "nice": false}, "axis": {"values": [0,0.005,0.01,0.015], "format": ".3f", "title": null}},
      "color": {"field": "k", "type": "nominal"}, "order": {"value": null}}},
    {"data": {"name": "refs"}, "transform": [{"filter": "datum.p=='T2'"}], "mark": "rule", "encoding": {"x": {"field": "x", "type": "quantitative"}}}
   ]},
   {"width": 42, "height": 1, "view": {"stroke": null}, "data": {"values": [{}]}, "mark": {"type": "point", "opacity": 0, "size": 0}, "encoding": {}},
   {"width": 158, "height": 107, "title": "Tapping", "layer": [
    {"data": {"name": "curves"}, "transform": [{"filter": "datum.p=='T3'"}, {"fold": ["a","b","c","d","e","f","g","h"], "as": ["k","v"]}], "mark": "line",
     "encoding": {
      "x": {"field": "x", "type": "quantitative", "scale": {"domain": [-22.7, 695.5], "nice": false}, "axis": {"values": [0,200,400,600], "title": "Force (g)"}},
      "y": {"field": "v", "type": "quantitative", "scale": {"domain": [-0.00074, 0.01102], "nice": false}, "axis": {"values": [0,0.0025,0.005,0.0075,0.01], "format": ".4f", "title": null}},
      "color": {"field": "k", "type": "nominal"}, "order": {"value": null}}},
    {"data": {"name": "refs"}, "transform": [{"filter": "datum.p=='T3'"}], "mark": "rule", "encoding": {"x": {"field": "x", "type": "quantitative"}}}
   ]}
  ]},
  {"width": 18.5, "height": 1, "view": {"stroke": null}, "data": {"values": [{}]}, "mark": {"type": "point", "opacity": 0, "size": 0}, "encoding": {}},
  {"bounds": "flush", "align": "each", "columns": 5, "spacing": {"row": 39, "column": 0}, "concat": [
   {"width": 144, "height": 69, "title": {"text": "Rotate:thumb", "fontSize": 13.5}, "layer": [
    {"data": {"name": "curves"}, "transform": [{"filter": "datum.p=='R1'"}, {"fold": ["a","b","c","d","e","f","g","h"], "as": ["k","v"]}], "mark": "line",
     "encoding": {
      "x": {"field": "x", "type": "quantitative", "scale": {"domain": [-1, 85.5], "nice": false}, "axis": {"values": [0,25,50,75], "title": "Force (grams)", "titlePadding": -3.4, "labelFontSize": 9.5}},
      "y": {"field": "v", "type": "quantitative", "scale": {"domain": [-0.0024, 0.0417], "nice": false}, "axis": {"values": [0,0.01,0.02,0.03,0.04], "format": ".2f", "title": null, "labelFontSize": 9.5}},
      "color": {"field": "k", "type": "nominal"}, "order": {"value": null}}},
    {"data": {"name": "refs"}, "transform": [{"filter": "datum.p=='R1'"}], "mark": "rule", "encoding": {"x": {"field": "x", "type": "quantitative"}}}
   ]},
   {"width": 47, "height": 1, "view": {"stroke": null}, "data": {"values": [{}]}, "mark": {"type": "point", "opacity": 0, "size": 0}, "encoding": {}},
   {"width": 162, "height": 69, "title": {"text": "Pinch-in:thumb", "fontSize": 13.5}, "layer": [
    {"data": {"name": "curves"}, "transform": [{"filter": "datum.p=='R2'"}, {"fold": ["a","b","c","d","e","f","g","h"], "as": ["k","v"]}], "mark": "line",
     "encoding": {
      "x": {"field": "x", "type": "quantitative", "scale": {"domain": [-6, 288.5], "nice": false}, "axis": {"values": [0,100,200], "title": "Force (grams)", "titlePadding": -3.4, "labelFontSize": 9.5}},
      "y": {"field": "v", "type": "quantitative", "scale": {"domain": [-0.00114, 0.02264], "nice": false}, "axis": {"values": [0,0.005,0.01,0.015,0.02], "format": ".3f", "title": null, "labelFontSize": 9.5}},
      "color": {"field": "k", "type": "nominal"}, "order": {"value": null}}},
    {"data": {"name": "refs"}, "transform": [{"filter": "datum.p=='R2'"}], "mark": "rule", "encoding": {"x": {"field": "x", "type": "quantitative"}}}
   ]},
   {"width": 31, "height": 1, "view": {"stroke": null}, "data": {"values": [{}]}, "mark": {"type": "point", "opacity": 0, "size": 0}, "encoding": {}},
   {"width": 162, "height": 69, "title": {"text": "Pinch-out:thumb", "fontSize": 13.5}, "layer": [
    {"data": {"name": "curves"}, "transform": [{"filter": "datum.p=='R3'"}, {"fold": ["a","b","c","d","e","f","g","h"], "as": ["k","v"]}], "mark": "line",
     "encoding": {
      "x": {"field": "x", "type": "quantitative", "scale": {"domain": [-4.1, 217], "nice": false}, "axis": {"values": [0,50,100,150,200], "title": "Force (grams)", "titlePadding": -3.4, "labelFontSize": 9.5}},
      "y": {"field": "v", "type": "quantitative", "scale": {"domain": [-0.00097, 0.0192], "nice": false}, "axis": {"values": [0,0.005,0.01,0.015], "labelExpr": "replace(format(datum.value,'.3f'),'0.','')", "title": null, "labelFontSize": 9.5}},
      "color": {"field": "k", "type": "nominal"}, "order": {"value": null}}},
    {"data": {"name": "refs"}, "transform": [{"filter": "datum.p=='R3'"}], "mark": "rule", "encoding": {"x": {"field": "x", "type": "quantitative"}}}
   ]},
   {"width": 144, "height": 71, "title": {"text": "Rotate:index finger", "fontSize": 13.5}, "layer": [
    {"data": {"name": "curves"}, "transform": [{"filter": "datum.p=='R4'"}, {"fold": ["a","b","c","d","e","f","g","h"], "as": ["k","v"]}], "mark": "line",
     "encoding": {
      "x": {"field": "x", "type": "quantitative", "scale": {"domain": [-2.6, 83.8], "nice": false}, "axis": {"values": [0,25,50,75], "title": "Force (grams)", "titlePadding": -3.4, "labelFontSize": 9.5}},
      "y": {"field": "v", "type": "quantitative", "scale": {"domain": [-0.00186, 0.02618], "nice": false}, "axis": {"values": [0,0.005,0.01,0.015,0.02,0.025], "format": ".3f", "title": null, "labelFontSize": 9.5}},
      "color": {"field": "k", "type": "nominal"}, "order": {"value": null}}},
    {"data": {"name": "refs"}, "transform": [{"filter": "datum.p=='R4'"}], "mark": "rule", "encoding": {"x": {"field": "x", "type": "quantitative"}}}
   ]},
   {"width": 47, "height": 1, "view": {"stroke": null}, "data": {"values": [{}]}, "mark": {"type": "point", "opacity": 0, "size": 0}, "encoding": {}},
   {"width": 162, "height": 71, "title": {"text": "Pinch-in:index finger", "fontSize": 13.5}, "layer": [
    {"data": {"name": "curves"}, "transform": [{"filter": "datum.p=='R5'"}, {"fold": ["a","b","c","d","e","f","g","h"], "as": ["k","v"]}], "mark": "line",
     "encoding": {
      "x": {"field": "x", "type": "quantitative", "scale": {"domain": [-6, 288.5], "nice": false}, "axis": {"values": [0,100,200], "title": "Force (grams)", "titlePadding": -3.4, "labelFontSize": 9.5}},
      "y": {"field": "v", "type": "quantitative", "scale": {"domain": [-0.00056, 0.01294], "nice": false}, "axis": {"values": [0,0.003,0.006,0.009,0.012], "format": ".3f", "title": null, "labelFontSize": 9.5}},
      "color": {"field": "k", "type": "nominal"}, "order": {"value": null}}},
    {"data": {"name": "refs"}, "transform": [{"filter": "datum.p=='R5'"}], "mark": "rule", "encoding": {"x": {"field": "x", "type": "quantitative"}}}
   ]},
   {"width": 31, "height": 1, "view": {"stroke": null}, "data": {"values": [{}]}, "mark": {"type": "point", "opacity": 0, "size": 0}, "encoding": {}},
   {"width": 162, "height": 71, "title": {"text": "Pinch-out:index finger", "fontSize": 13.5}, "layer": [
    {"data": {"name": "curves"}, "transform": [{"filter": "datum.p=='R6'"}, {"fold": ["a","b","c","d","e","f","g","h"], "as": ["k","v"]}], "mark": "line",
     "encoding": {
      "x": {"field": "x", "type": "quantitative", "scale": {"domain": [-4.1, 217], "nice": false}, "axis": {"values": [0,50,100,150,200], "title": "Force (grams)", "titlePadding": -3.4, "labelFontSize": 9.5}},
      "y": {"field": "v", "type": "quantitative", "scale": {"domain": [-0.00074, 0.01705], "nice": false}, "axis": {"values": [0,0.005,0.01,0.015], "labelExpr": "replace(format(datum.value,'.3f'),'0.','')", "title": null, "labelFontSize": 9.5}},
      "color": {"field": "k", "type": "nominal"}, "order": {"value": null}}},
    {"data": {"name": "refs"}, "transform": [{"filter": "datum.p=='R6'"}], "mark": "rule", "encoding": {"x": {"field": "x", "type": "quantitative"}}}
   ]}
  ]}
 ]},
 {"width": 1249, "height": 2, "view": {"stroke": null}, "data": {"values": [{"a": 0, "b": 1, "y": 0.5}]}, "mark": {"type": "rule", "color": "#000000", "strokeWidth": 2.5, "strokeDash": [1, 0]},
  "encoding": {"x": {"field": "a", "type": "quantitative", "scale": {"domain": [0, 1]}, "axis": null}, "x2": {"field": "b"}, "y": {"field": "y", "type": "quantitative", "scale": {"domain": [0, 1]}, "axis": null}}},
 {"width": 1, "height": 7.9, "view": {"stroke": null}, "data": {"values": [{}]}, "mark": {"type": "point", "opacity": 0, "size": 0}, "encoding": {}},
 {"spacing": 0, "hconcat": [
  {"bounds": "flush", "spacing": 0, "hconcat": [
   {"width": 81, "height": 109, "view": {"stroke": null}, "data": {"values": [{"v": 0}]}, "mark": {"type": "point", "opacity": 0, "size": 0},
    "encoding": {"y": {"field": "v", "type": "quantitative", "scale": {"domain": [0, 1]}, "axis": {"title": "Probability Density", "labels": false, "ticks": false, "grid": false, "domain": false, "offset": -47.7, "titlePadding": 0, "titleFontSize": 18.5, "titleColor": "#000000", "titleY": 58}}}},
   {"width": 169, "height": 109, "title": "Typing", "layer": [
    {"data": {"name": "curves"}, "transform": [{"filter": "datum.p=='B1'"}, {"fold": ["a","b","c","d","e","f","g","h"], "as": ["k","v"]}], "mark": "line",
     "encoding": {
      "x": {"field": "x", "type": "quantitative", "scale": {"domain": [-23.7, 496], "nice": false}, "axis": {"values": [0,100,200,300,400], "title": "Time (ms)"}},
      "y": {"field": "v", "type": "quantitative", "scale": {"domain": [-0.00049, 0.01193], "nice": false}, "axis": {"values": [0,0.003,0.006,0.009], "format": ".3f", "title": null}},
      "color": {"field": "k", "type": "nominal"}, "order": {"value": null}}},
    {"data": {"name": "refs"}, "transform": [{"filter": "datum.p=='B1'"}], "mark": "rule", "encoding": {"x": {"field": "x", "type": "quantitative"}}}
   ]},
   {"width": 36, "height": 1, "view": {"stroke": null}, "data": {"values": [{}]}, "mark": {"type": "point", "opacity": 0, "size": 0}, "encoding": {}},
   {"width": 168, "height": 109, "title": "Panning", "layer": [
    {"data": {"name": "curves"}, "transform": [{"filter": "datum.p=='B2'"}, {"fold": ["a","b","c","d","e","f","g","h"], "as": ["k","v"]}], "mark": "line",
     "encoding": {
      "x": {"field": "x", "type": "quantitative", "scale": {"domain": [-34.8, 637], "nice": false}, "axis": {"values": [0,200,400,600], "title": "Time (ms)"}},
      "y": {"field": "v", "type": "quantitative", "scale": {"domain": [-0.000175, 0.004256], "nice": false}, "axis": {"values": [0,0.001,0.002,0.003,0.004], "format": ".3f", "title": null}},
      "color": {"field": "k", "type": "nominal"}, "order": {"value": null}}},
    {"data": {"name": "refs"}, "transform": [{"filter": "datum.p=='B2'"}], "mark": "rule", "encoding": {"x": {"field": "x", "type": "quantitative"}}}
   ]},
   {"width": 36, "height": 1, "view": {"stroke": null}, "data": {"values": [{}]}, "mark": {"type": "point", "opacity": 0, "size": 0}, "encoding": {}},
   {"width": 170, "height": 109, "title": "Tapping", "layer": [
    {"data": {"name": "curves"}, "transform": [{"filter": "datum.p=='B3'"}, {"fold": ["a","b","c","d","e","f","g","h"], "as": ["k","v"]}], "mark": "line",
     "encoding": {
      "x": {"field": "x", "type": "quantitative", "scale": {"domain": [-38.7, 783.7], "nice": false}, "axis": {"values": [0,200,400,600], "title": "Time (ms)"}},
      "y": {"field": "v", "type": "quantitative", "scale": {"domain": [-0.0002, 0.0062], "nice": false}, "axis": {"values": [0,0.002,0.004,0.006], "format": ".3f", "title": null}},
      "color": {"field": "k", "type": "nominal"}, "order": {"value": null}}},
    {"data": {"name": "refs"}, "transform": [{"filter": "datum.p=='B3'"}], "mark": "rule", "encoding": {"x": {"field": "x", "type": "quantitative"}}}
   ]}
  ]},
  {"width": 12.3, "height": 1, "view": {"stroke": null}, "data": {"values": [{}]}, "mark": {"type": "point", "opacity": 0, "size": 0}, "encoding": {}},
  {"bounds": "flush", "align": "each", "columns": 5, "spacing": {"row": 40, "column": 0}, "concat": [
   {"width": 140, "height": 68, "title": {"text": "Rotate:thumb", "fontSize": 13.5}, "layer": [
    {"data": {"name": "curves"}, "transform": [{"filter": "datum.p=='S1'"}, {"fold": ["a","b","c","d","e","f","g","h"], "as": ["k","v"]}], "mark": "line",
     "encoding": {
      "x": {"field": "x", "type": "quantitative", "scale": {"domain": [-59, 826], "nice": false}, "axis": {"values": [0,250,500,750], "title": "Time (ms)", "titlePadding": -4.5, "labelFontSize": 9.5}},
      "y": {"field": "v", "type": "quantitative", "scale": {"domain": [-0.0002, 0.00267], "nice": false}, "axis": {"values": [0,0.0005,0.001,0.0015,0.002,0.0025], "format": ".4f", "title": null, "labelFontSize": 9.5}},
      "color": {"field": "k", "type": "nominal"}, "order": {"value": null}}},
    {"data": {"name": "refs"}, "transform": [{"filter": "datum.p=='S1'"}], "mark": "rule", "encoding": {"x": {"field": "x", "type": "quantitative"}}}
   ]},
   {"width": 44, "height": 1, "view": {"stroke": null}, "data": {"values": [{}]}, "mark": {"type": "point", "opacity": 0, "size": 0}, "encoding": {}},
   {"width": 160, "height": 68, "title": {"text": "Pinch-in:thumb", "fontSize": 13.5}, "layer": [
    {"data": {"name": "curves"}, "transform": [{"filter": "datum.p=='S2'"}, {"fold": ["a","b","c","d","e","f","g","h"], "as": ["k","v"]}], "mark": "line",
     "encoding": {
      "x": {"field": "x", "type": "quantitative", "scale": {"domain": [-33.8, 913], "nice": false}, "axis": {"values": [0,250,500,750], "title": "Time (ms)", "titlePadding": -4.5, "labelFontSize": 9.5}},
      "y": {"field": "v", "type": "quantitative", "scale": {"domain": [-0.00014, 0.00273], "nice": false}, "axis": {"values": [0,0.001,0.002], "format": ".3f", "title": null, "labelFontSize": 9.5}},
      "color": {"field": "k", "type": "nominal"}, "order": {"value": null}}},
    {"data": {"name": "refs"}, "transform": [{"filter": "datum.p=='S2'"}], "mark": "rule", "encoding": {"x": {"field": "x", "type": "quantitative"}}}
   ]},
   {"width": 31, "height": 1, "view": {"stroke": null}, "data": {"values": [{}]}, "mark": {"type": "point", "opacity": 0, "size": 0}, "encoding": {}},
   {"width": 167, "height": 68, "title": {"text": "Pinch-out:thumb", "fontSize": 13.5}, "layer": [
    {"data": {"name": "curves"}, "transform": [{"filter": "datum.p=='S3'"}, {"fold": ["a","b","c","d","e","f","g","h"], "as": ["k","v"]}], "mark": "line",
     "encoding": {
      "x": {"field": "x", "type": "quantitative", "scale": {"domain": [-49, 975], "nice": false}, "axis": {"values": [0,250,500,750], "title": "Time (ms)", "titlePadding": -4.5, "labelFontSize": 9.5}},
      "y": {"field": "v", "type": "quantitative", "scale": {"domain": [-0.00015, 0.00294], "nice": false}, "axis": {"values": [0,0.001,0.002], "labelExpr": "replace(format(datum.value,'.3f'),'0.','')", "title": null, "labelFontSize": 9.5}},
      "color": {"field": "k", "type": "nominal"}, "order": {"value": null}}},
    {"data": {"name": "refs"}, "transform": [{"filter": "datum.p=='S3'"}], "mark": "rule", "encoding": {"x": {"field": "x", "type": "quantitative"}}}
   ]},
   {"width": 140, "height": 67, "title": {"text": "Rotate:index finger", "fontSize": 13.5}, "layer": [
    {"data": {"name": "curves"}, "transform": [{"filter": "datum.p=='S4'"}, {"fold": ["a","b","c","d","e","f","g","h"], "as": ["k","v"]}], "mark": "line",
     "encoding": {
      "x": {"field": "x", "type": "quantitative", "scale": {"domain": [-29, 835], "nice": false}, "axis": {"values": [0,250,500,750], "title": "Time (ms)", "titlePadding": -4.5, "labelFontSize": 9.5}},
      "y": {"field": "v", "type": "quantitative", "scale": {"domain": [-0.00007, 0.00272], "nice": false}, "axis": {"values": [0,0.001,0.002], "format": ".3f", "title": null, "labelFontSize": 9.5}},
      "color": {"field": "k", "type": "nominal"}, "order": {"value": null}}},
    {"data": {"name": "refs"}, "transform": [{"filter": "datum.p=='S4'"}], "mark": "rule", "encoding": {"x": {"field": "x", "type": "quantitative"}}}
   ]},
   {"width": 44, "height": 1, "view": {"stroke": null}, "data": {"values": [{}]}, "mark": {"type": "point", "opacity": 0, "size": 0}, "encoding": {}},
   {"width": 160, "height": 67, "title": {"text": "Pinch-in:index finger", "fontSize": 13.5}, "layer": [
    {"data": {"name": "curves"}, "transform": [{"filter": "datum.p=='S5'"}, {"fold": ["a","b","c","d","e","f","g","h"], "as": ["k","v"]}], "mark": "line",
     "encoding": {
      "x": {"field": "x", "type": "quantitative", "scale": {"domain": [-33.8, 913], "nice": false}, "axis": {"values": [0,250,500,750], "title": "Time (ms)", "titlePadding": -4.5, "labelFontSize": 9.5}},
      "y": {"field": "v", "type": "quantitative", "scale": {"domain": [-0.00014, 0.00338], "nice": false}, "axis": {"values": [0,0.001,0.002,0.003], "format": ".3f", "title": null, "labelFontSize": 9.5}},
      "color": {"field": "k", "type": "nominal"}, "order": {"value": null}}},
    {"data": {"name": "refs"}, "transform": [{"filter": "datum.p=='S5'"}], "mark": "rule", "encoding": {"x": {"field": "x", "type": "quantitative"}}}
   ]},
   {"width": 31, "height": 1, "view": {"stroke": null}, "data": {"values": [{}]}, "mark": {"type": "point", "opacity": 0, "size": 0}, "encoding": {}},
   {"width": 167, "height": 67, "title": {"text": "Pinch-out:index finger", "fontSize": 13.5}, "layer": [
    {"data": {"name": "curves"}, "transform": [{"filter": "datum.p=='S6'"}, {"fold": ["a","b","c","d","e","f","g","h"], "as": ["k","v"]}], "mark": "line",
     "encoding": {
      "x": {"field": "x", "type": "quantitative", "scale": {"domain": [-49, 975], "nice": false}, "axis": {"values": [0,250,500,750], "title": "Time (ms)", "titlePadding": -4.5, "labelFontSize": 9.5}},
      "y": {"field": "v", "type": "quantitative", "scale": {"domain": [-0.00012, 0.00276], "nice": false}, "axis": {"values": [0,0.001,0.002], "labelExpr": "replace(format(datum.value,'.3f'),'0.','')", "title": null, "labelFontSize": 9.5}},
      "color": {"field": "k", "type": "nominal"}, "order": {"value": null}}},
    {"data": {"name": "refs"}, "transform": [{"filter": "datum.p=='S6'"}], "mark": "rule", "encoding": {"x": {"field": "x", "type": "quantitative"}}}
   ]}
  ]}
 ]}
]
}
